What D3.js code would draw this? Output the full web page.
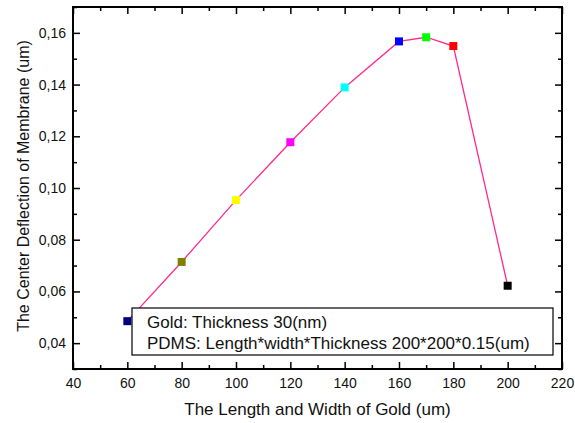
<!DOCTYPE html>
<html>
<head>
<meta charset="utf-8">
<script src="https://cdn.jsdelivr.net/npm/d3@7"></script>
<style>
  body { margin: 0; background: #fff; }
  text { font-family: "Liberation Sans", Arial, sans-serif; fill: #111; }
</style>
</head>
<body>
<div id="chart"></div>
<script>
// donnees
var sizes = [60, 80, 100, 120, 140, 160, 170, 180, 200];
var deflection = [0.0485, 0.0714, 0.0953, 0.1177, 0.1389, 0.1567, 0.1583, 0.1549, 0.0622];
var pointColors = ["#000080", "#808000", "#ffff00", "#ff00ff", "#00ffff", "#0000ff", "#00ff00", "#ff0000", "#000000"];
var xTicks = [40, 60, 80, 100, 120, 140, 160, 180, 200, 220];
var yTicks = [0.04, 0.06, 0.08, 0.10, 0.12, 0.14, 0.16];
var legendLines = ["Gold: Thickness 30(nm)", "PDMS: Length*width*Thickness 200*200*0.15(um)"];

var W = 575, H = 423;
var margin = {top: 7, right: 13, bottom: 54, left: 73};
var width = W - margin.left - margin.right,
    height = H - margin.top - margin.bottom;

var svg = d3.select("#chart").append("svg")
    .attr("width", W)
    .attr("height", H);

var g = svg.append("g")
    .attr("transform", "translate(" + margin.left + "," + margin.top + ")");

var x = d3.scaleLinear().domain([40, 220]).range([0, width]);
var y = d3.scaleLinear().domain([0.03, 0.17]).range([height, 0]);

var fmt = function (d) { return d3.format(".2f")(d).replace(".", ","); };

// minor ticks
var xMinor = d3.range(50, 220, 20);
var yMinor = d3.range(0.03, 0.171, 0.02).map(function (d) { return +d.toFixed(2); });

function styleAxis(sel) {
    sel.select(".domain").remove();
    sel.selectAll(".tick line").attr("stroke", "#000").attr("stroke-width", 1.5);
    sel.selectAll("text").style("font-size", "14px");
}

// Axe X bas
g.append("g")
    .attr("transform", "translate(0," + height + ")")
    .call(d3.axisBottom(x).tickValues(xTicks).tickSizeInner(-7).tickSizeOuter(0).tickPadding(9))
    .call(styleAxis);
g.append("g")
    .attr("transform", "translate(0," + height + ")")
    .call(d3.axisBottom(x).tickValues(xMinor).tickSizeInner(-4).tickSizeOuter(0).tickFormat(""))
    .call(styleAxis);
// Axe X haut
g.append("g")
    .call(d3.axisTop(x).tickValues(xTicks).tickSizeInner(-7).tickSizeOuter(0).tickFormat(""))
    .call(styleAxis);
g.append("g")
    .call(d3.axisTop(x).tickValues(xMinor).tickSizeInner(-4).tickSizeOuter(0).tickFormat(""))
    .call(styleAxis);

// Axe Y gauche
g.append("g")
    .call(d3.axisLeft(y).tickValues(yTicks).tickSizeInner(-7).tickSizeOuter(0).tickPadding(7).tickFormat(fmt))
    .call(styleAxis);
g.append("g")
    .call(d3.axisLeft(y).tickValues(yMinor).tickSizeInner(-4).tickSizeOuter(0).tickFormat(""))
    .call(styleAxis);
// Axe Y droit
g.append("g")
    .attr("transform", "translate(" + width + ",0)")
    .call(d3.axisRight(y).tickValues(yTicks).tickSizeInner(-7).tickSizeOuter(0).tickFormat(""))
    .call(styleAxis);
g.append("g")
    .attr("transform", "translate(" + width + ",0)")
    .call(d3.axisRight(y).tickValues(yMinor).tickSizeInner(-4).tickSizeOuter(0).tickFormat(""))
    .call(styleAxis);

// cadre
g.append("rect")
    .attr("width", width)
    .attr("height", height)
    .attr("fill", "none")
    .attr("stroke", "#000")
    .attr("stroke-width", 2);

// courbe
var line = d3.line()
    .x(function (d, i) { return x(sizes[i]); })
    .y(function (d) { return y(d); });

g.append("path")
    .datum(deflection)
    .attr("d", line)
    .attr("fill", "none")
    .attr("stroke", "#ff2a8a")
    .attr("stroke-width", 1.3);

// points
g.selectAll("rect.pt")
    .data(deflection)
    .enter()
    .append("rect")
    .attr("class", "pt")
    .attr("x", function (d, i) { return x(sizes[i]) - 4; })
    .attr("y", function (d) { return y(d) - 4; })
    .attr("width", 8)
    .attr("height", 8)
    .attr("fill", function (d, i) { return pointColors[i]; });

// legende
var leg = g.append("g").attr("transform", "translate(" + (132 - margin.left) + "," + (308 - margin.top) + ")");
leg.append("rect")
    .attr("width", 421)
    .attr("height", 47)
    .attr("fill", "#fff")
    .attr("stroke", "#000")
    .attr("stroke-width", 1.2);
leg.selectAll("text")
    .data(legendLines)
    .enter()
    .append("text")
    .attr("x", 15)
    .attr("y", function (d, i) { return 20 + i * 21; })
    .style("font-size", "17px")
    .text(function (d) { return d; });

// Titres des axes
svg.append("text")
    .attr("x", margin.left + width / 2)
    .attr("y", 415)
    .attr("text-anchor", "middle")
    .style("font-size", "17px")
    .text("The Length and Width of Gold (um)");

svg.append("text")
    .attr("transform", "rotate(-90)")
    .attr("x", -186)
    .attr("y", 29)
    .attr("text-anchor", "middle")
    .style("font-size", "16px")
    .text("The Center Deflection of Membrane (um)");
</script>
</body>
</html>
